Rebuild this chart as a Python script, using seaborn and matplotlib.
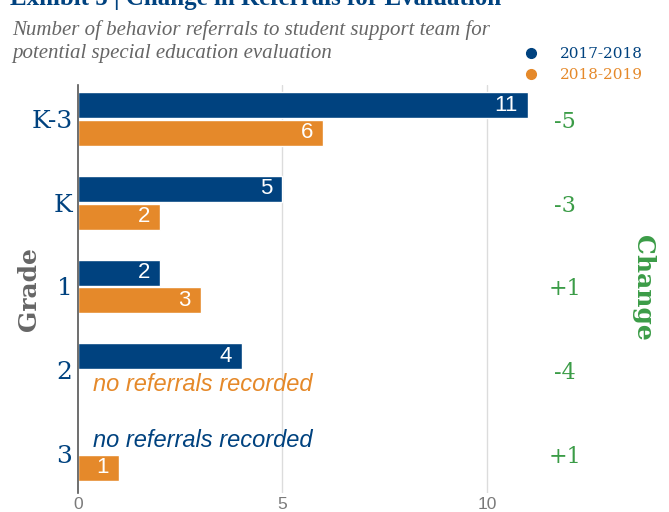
import numpy as np
import pandas as pd
import matplotlib
matplotlib.use("Agg")
import matplotlib.pyplot as plt
from matplotlib.lines import Line2D
import seaborn as sns

# ---- data ----
grades = ["K-3", "K", "1", "2", "3"]
years = ["2017-2018", "2018-2019"]
referrals_2017 = [11, 5, 2, 4, np.nan]
referrals_2018 = [6, 2, 3, np.nan, 1]
changes = ["-5", "-3", "+1", "-4", "+1"]

title = "Exhibit 5 | Change in Referrals for Evaluation"
subtitle = "Number of behavior referrals to student support team for\npotential special education evaluation"
xticks = [0, 5, 10]

BLUE = "#00427f"
ORANGE = "#e5892a"
GREEN = "#3b9c47"
GREY = "#666666"

df = pd.DataFrame({
    "Grade": grades * 2,
    "Year": [years[0]] * len(grades) + [years[1]] * len(grades),
    "Referrals": referrals_2017 + referrals_2018,
})

sns.set_theme(style="white")
plt.rcParams["font.family"] = ["DejaVu Sans"]

W, H = 669, 512
fig = plt.figure(figsize=(W / 100, H / 100), dpi=100)
ax = fig.add_axes([78 / W, 1 - 493 / H, (540 - 78) / W, (493 - 85) / H])

bar_width = 0.66
sns.barplot(data=df, y="Grade", x="Referrals", hue="Year", order=grades,
            hue_order=years, orient="h", palette=[BLUE, ORANGE],
            width=bar_width, gap=0.06, errorbar=None, legend=False,
            saturation=1, ax=ax)

ax.set_xlim(0, 11.3)
ax.set_ylim(4.466, -0.406)
ax.set_xticks(xticks)
ax.set_xticklabels([str(t) for t in xticks], fontfamily="Liberation Sans",
                   fontsize=12.5, color="#7a7a7a")
ax.tick_params(axis="x", length=0, pad=3)
ax.tick_params(axis="y", length=0, pad=4)
ax.set_yticks(range(len(grades)))
ax.set_yticklabels(grades, fontfamily="DejaVu Serif", fontsize=18, color=BLUE)
for t in xticks[1:]:
    ax.axvline(t, color="#dcdcdc", lw=1, zorder=0)
for s in ["top", "right", "bottom"]:
    ax.spines[s].set_visible(False)
ax.spines["left"].set_color("#555555")
ax.spines["left"].set_linewidth(1.2)
ax.set_xlabel("")
ax.set_ylabel("")
fig.text(29 / W, 1 - 289 / H, "Grade", rotation=90, ha="center", va="center",
         color=GREY, fontsize=18, fontweight="bold", fontfamily="DejaVu Serif")

# value labels inside bars
for cont in ax.containers:
    for p in cont:
        w = p.get_width()
        if np.isnan(w) or w == 0:
            continue
        yc = p.get_y() + p.get_height() / 2
        ax.annotate(f"{int(w)}", (w, yc), xytext=(-7, 0),
                    textcoords="offset points", ha="right", va="center",
                    color="white", fontsize=16, fontfamily="Liberation Sans")

# "no referrals recorded" notes
series = [referrals_2017, referrals_2018]
colors = [BLUE, ORANGE]
for h, (vals, col) in enumerate(zip(series, colors)):
    offset = (h - 0.5) * bar_width / 2
    for i, v in enumerate(vals):
        if np.isnan(v):
            ax.annotate("no referrals recorded", (0, i + offset),
                        xytext=(11, 0), textcoords="offset points",
                        ha="left", va="center", color=col, fontsize=17,
                        fontstyle="italic", fontfamily="Liberation Sans")

# change column
for i, c in enumerate(changes):
    ax.annotate(c, (1, i), xycoords=("axes fraction", "data"),
                xytext=(18, -2), textcoords="offset points", ha="center",
                va="center", color=GREEN, fontsize=16, fontfamily="DejaVu Serif")
fig.text(643 / W, 1 - 288 / H, "Change", rotation=-90, ha="center", va="center",
         color=GREEN, fontsize=18, fontweight="bold", fontfamily="DejaVu Serif")

# title and subtitle
fig.text(10 / W, 1 - 5 / H, title, ha="left", va="baseline", color=BLUE,
         fontsize=18, fontweight="bold", fontfamily="Liberation Serif")
fig.text(12 / W, 1 - 58 / H, subtitle, ha="left", va="baseline", color=GREY,
         fontsize=15, fontstyle="italic", fontfamily="Liberation Serif",
         linespacing=1.3)

# legend
handles = [Line2D([], [], marker="o", ls="", color=c, markersize=7) for c in colors]
leg = fig.legend(handles, years, loc="upper left",
                 bbox_to_anchor=(510 / W, 1 - 41 / H), frameon=False,
                 prop={"family": "DejaVu Serif", "size": 11},
                 handletextpad=0.9, labelspacing=0.45, borderaxespad=0,
                 labelcolor=colors)

fig.savefig("out.png", dpi=100)
